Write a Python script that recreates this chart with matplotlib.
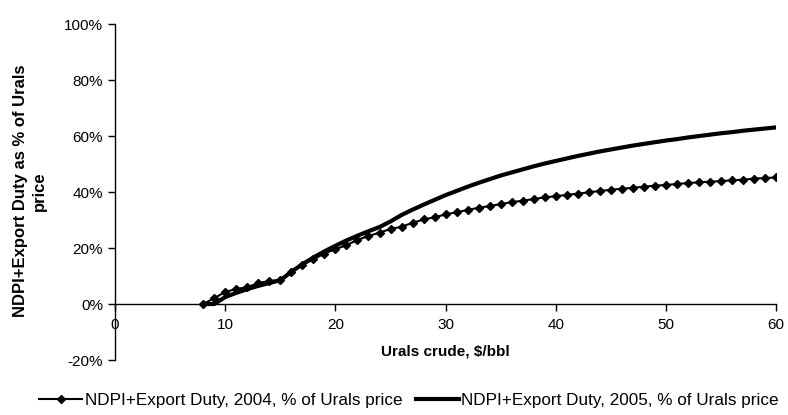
import matplotlib
import numpy as np
import matplotlib.pyplot as plt
from matplotlib.ticker import FuncFormatter

matplotlib.rcParams['font.family'] = ['Liberation Sans', 'DejaVu Sans']
matplotlib.rcParams['font.size'] = 11

# Urals price, $/bbl
price = list(range(8, 61))

# NDPI+Export Duty, 2004, % of Urals price
duty_2004 = [0.0, 2.1, 4.3, 5.4, 6.0, 7.5, 8.2, 8.6, 11.4, 14.0,
             16.0, 18.0, 19.6, 21.0, 22.9, 24.3, 25.5, 26.8, 27.6, 29.0,
             30.2, 31.0, 32.0, 32.8, 33.6, 34.4, 35.0, 35.7, 36.4, 36.9,
             37.5, 38.1, 38.5, 39.0, 39.4, 39.9, 40.4, 40.8, 41.2, 41.5,
             41.9, 42.3, 42.5, 42.9, 43.2, 43.5, 43.7, 43.9, 44.2, 44.4,
             44.8, 45.0, 45.2]

# NDPI+Export Duty, 2005, % of Urals price
duty_2005 = [0.0, 0.0, 2.5, 4.0, 5.3, 6.5, 7.5, 8.5, 11.5, 14.2,
             16.6, 18.8, 20.8, 22.7, 24.4, 26.0, 27.5, 29.5, 31.8, 33.7,
             35.5, 37.2, 38.9, 40.4, 41.9, 43.3, 44.6, 45.9, 47.0, 48.1,
             49.2, 50.2, 51.1, 52.0, 52.9, 53.7, 54.5, 55.2, 55.9, 56.6,
             57.2, 57.8, 58.4, 58.9, 59.5, 60.0, 60.5, 61.0, 61.4, 61.9,
             62.3, 62.7, 63.1]

fig = plt.figure(figsize=(7.88, 4.15), dpi=100)
ax = fig.add_axes([0.146, 0.1325, 0.839, 0.8095])

ax.plot(price, np.array(duty_2004) / 100, '-', color='k', linewidth=1.5,
        marker='D', markersize=4.5, markeredgecolor='k', markerfacecolor='k',
        label='NDPI+Export Duty, 2004, % of Urals price')
ax.plot(price, np.array(duty_2005) / 100, '-', color='k', linewidth=3,
        label='NDPI+Export Duty, 2005, % of Urals price')

ax.set_xlim(0, 60)
ax.set_ylim(-0.2, 1.0)
ax.xaxis.set_ticks(np.arange(0, 61, 10))
ax.yaxis.set_ticks(np.arange(-0.2, 1.01, 0.2))
ax.yaxis.set_major_formatter(FuncFormatter(lambda v, p: '%d%%' % round(v * 100)))

ax.spines['right'].set_color('none')
ax.spines['top'].set_color('none')
ax.spines['bottom'].set_position(('data', 0))
ax.spines['bottom'].set_linewidth(1)
ax.spines['left'].set_linewidth(1)
ax.tick_params(axis='both', direction='out', length=5, width=1, labelsize=11)
ax.tick_params(axis='x', pad=5)

ax.text(0.5, 0.024, 'Urals crude, $/bbl', fontweight='bold', fontsize=11,
        ha='center', va='center', transform=ax.transAxes)
fig.text(30 / 788, 1 - 191 / 415, 'NDPI+Export Duty as % of Urals\nprice',
         fontweight='bold', fontsize=12, rotation=90, ha='center', va='center',
         multialignment='center', linespacing=1.25)

legend = ax.legend(loc='center', bbox_to_anchor=(0.519, 0.035),
                   bbox_transform=fig.transFigure, ncol=2, frameon=False,
                   handlelength=2.5, handletextpad=0.15, columnspacing=0.8,
                   fontsize=12.3)

plt.savefig('out.png', dpi=100)
